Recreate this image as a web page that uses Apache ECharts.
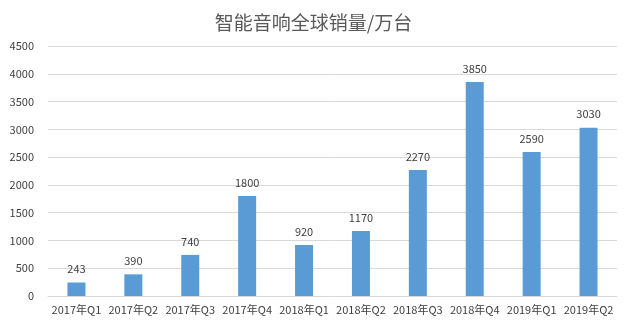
<!DOCTYPE html>
<html><head><meta charset="utf-8">
<script src="https://cdn.jsdelivr.net/npm/echarts@6/dist/echarts.min.js"></script>
<style>html,body{margin:0;padding:0;background:#fff}#c{width:627px;height:331px}</style>
</head><body><div id="c"></div>
<script>
const categories = ["2017年Q1","2017年Q2","2017年Q3","2017年Q4","2018年Q1","2018年Q2","2018年Q3","2018年Q4","2019年Q1","2019年Q2"];
const sales = [243,390,740,1800,920,1170,2270,3850,2590,3030];
const titleText = "智能音响全球销量/万台";
const font = '"Microsoft YaHei","Noto Sans CJK SC",sans-serif';
const chart = echarts.init(document.getElementById('c'));
chart.setOption({
  animation:false,
  title:{text:titleText,left:'center',top:8,textStyle:{fontFamily:font,fontSize:19,fontWeight:'normal',color:'#595959'}},
  grid:{left:48,right:10,top:46,bottom:35},
  xAxis:{type:'category',data:categories,axisTick:{show:false},
    axisLine:{lineStyle:{color:'#d9d9d9'}},
    axisLabel:{color:'#404040',fontSize:11,fontFamily:font,interval:0,margin:8}},
  yAxis:{type:'value',min:0,max:4500,interval:500,
    axisLine:{show:false},axisTick:{show:false},
    splitLine:{lineStyle:{color:'#d9d9d9'}},
    axisLabel:{color:'#404040',fontSize:11,fontFamily:font,margin:14,formatter:function(v){return String(v);}}},
  series:[{type:'bar',data:sales,barWidth:18,itemStyle:{color:'#5B9BD5'},
    label:{show:true,position:'top',distance:8,color:'#404040',fontSize:11,fontFamily:font}}]
});
</script></body></html>
